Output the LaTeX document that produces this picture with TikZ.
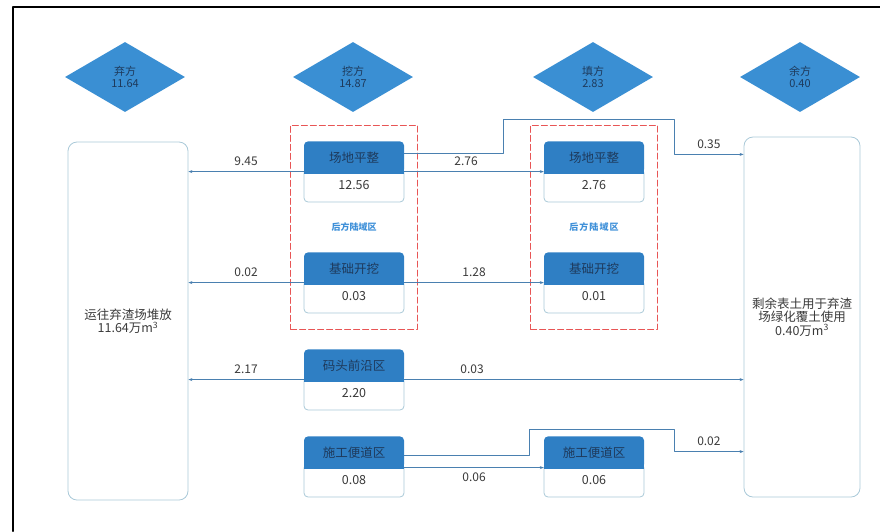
\documentclass[tikz,border=0pt]{standalone}
\usepackage{fontspec}
\usepackage{tikz}
\usetikzlibrary{arrows.meta, shapes, positioning, fit}
\newfontfamily\cjk{Noto Sans CJK SC}
\definecolor{diamondblue}{HTML}{3A8FD3}
\definecolor{headblue}{HTML}{2F7FC4}
\definecolor{inkblue}{HTML}{1E3A5C}
\definecolor{flowblue}{HTML}{4A80B0}
\definecolor{edgegrey}{HTML}{A9C9D8}
\definecolor{zonered}{HTML}{E85555}
\definecolor{tagblue}{HTML}{3D8FD8}
\definecolor{textgrey}{HTML}{3A3A3A}

\begin{document}
\begin{tikzpicture}[x=1pt, y=-1pt, line cap=round, line join=round,
    quantity/.style={diamond, fill=diamondblue, minimum width=120pt, minimum height=70pt, inner sep=0pt, align=center, text=inkblue, font=\cjk\fontsize{11}{12}\selectfont},
    sink/.style={draw=edgegrey, line width=0.8pt, rounded corners=9pt, align=center, text=textgrey, font=\cjk\fontsize{12.5}{13.5}\selectfont},
    head/.style={fill=headblue, rounded corners=4pt, minimum width=100pt, minimum height=32pt, inner sep=0pt, text=inkblue, font=\cjk\fontsize{12.5}{14}\selectfont},
    amount/.style={draw=edgegrey, line width=0.8pt, fill=white, rounded corners=4pt, minimum width=100pt, minimum height=33pt, inner sep=0pt, text=textgrey, font=\cjk\fontsize{12.5}{14}\selectfont},
    zone/.style={draw=zonered, line width=1pt, dash pattern=on 6pt off 3pt, inner xsep=13pt, inner ysep=16pt},
    tag/.style={text=tagblue, font=\cjk\bfseries\fontsize{9}{10}\selectfont},
    flow/.style={draw=flowblue, line width=0.8pt, -{Stealth[length=4pt, width=3pt]}},
    qty/.style={text=textgrey, font=\cjk\fontsize{12}{13}\selectfont}]
  \useasboundingbox (0,0) rectangle (880,531);

  % 外框
  \draw[line width=2pt] (13,531) -- (13,7) -- (880,7);

  % 土方总量
  \node[quantity] (qQi) at (125,77) {弃方\\11.64};
  \node[quantity] (qWa) at (353,77) {挖方\\14.87};
  \node[quantity] (qTian) at (593,77) {填方\\2.83};
  \node[quantity] (qYu) at (800,77) {余方\\0.40};

  % 去向
  \node[sink, minimum width=120pt, minimum height=358pt] (dump) at (128,321) {运往弃渣场堆放\\11.64万m\textsuperscript{3}};
  \node[sink, minimum width=116pt, minimum height=360pt] (cover) at (802,317) {剩余表土用于弃渣\\场绿化覆土使用\\0.40万m\textsuperscript{3}};

  % 挖方分区
  \node[amount] (pzAv) at (354,185.5) {12.56};
  \node[head, above=-5pt of pzAv] (pzA) {场地平整};
  \node[amount] (jcAv) at (354,296.5) {0.03};
  \node[head, above=-5pt of jcAv] (jcA) {基础开挖};
  \node[amount] (mtAv) at (354,393.5) {2.20};
  \node[head, above=-5pt of mtAv] (mtA) {码头前沿区};
  \node[amount] (sdAv) at (354,480.5) {0.08};
  \node[head, above=-5pt of sdAv] (sdA) {施工便道区};

  % 填方分区
  \node[amount] (pzBv) at (594,185.5) {2.76};
  \node[head, above=-5pt of pzBv] (pzB) {场地平整};
  \node[amount] (jcBv) at (594,296.5) {0.01};
  \node[head, above=-5pt of jcBv] (jcB) {基础开挖};
  \node[amount] (sdBv) at (594,480.5) {0.06};
  \node[head, above=-5pt of sdBv] (sdB) {施工便道区};

  \foreach \n in {pzA, jcA, mtA, sdA, pzB, jcB, sdB}
    \fill[headblue] ([yshift=5pt]\n.south west) rectangle (\n.south east);

  % 后方陆域区
  \node[zone, fit=(pzA)(jcAv)] (zoneA) {};
  \node[zone, fit=(pzB)(jcBv)] (zoneB) {};
  \node[tag] (tagA) at (zoneA.center) {后方陆域区};
  \node[tag] (tagB) at (zoneB.center) {\addfontfeature{LetterSpace=12}后方陆域区};

  % 流向
  \draw[flow] ([yshift=2pt]pzA.south west) coordinate (s1) -- (s1 -| dump.east) node[qty, midway, above=2pt] {9.45};
  \draw[flow] ([yshift=2pt]pzA.south east) coordinate (s2) -- (s2 -| pzB.west) node[qty, midway, above=2pt, xshift=-8pt] {2.76};
  \draw[flow] ([yshift=4pt]pzA.east) -- ++(99,0) -- ++(0,-34) -- ++(171,0) -- ++(0,35) coordinate (s3) -- (s3 -| cover.west) node[qty, midway, above=2pt] {0.35};
  \draw[flow] ([yshift=2pt]jcA.south west) coordinate (s4) -- (s4 -| dump.east) node[qty, midway, above=2pt] {0.02};
  \draw[flow] ([yshift=2pt]jcA.south east) coordinate (s5) -- (s5 -| jcB.west) node[qty, midway, above=2pt] {1.28};
  \draw[flow] ([yshift=2pt]mtA.south west) coordinate (s6) -- (s6 -| dump.east) node[qty, midway, above=2pt] {2.17};
  \draw[flow] ([yshift=2pt]mtA.south east) coordinate (s7) -- (s7 -| cover.west) node[qty, pos=0.2, above=2pt] {0.03};
  \draw[flow] ([yshift=13pt]sdA.south east) -- ++(125,0) -- ++(0,-26) -- ++(145,0) -- ++(0,22) coordinate (s8) -- (s8 -| cover.west) node[qty, midway, above=2pt] {0.02};
  \draw[flow] ([yshift=1pt]sdA.south east) coordinate (s9) -- (s9 -| sdB.west) node[qty, midway, below=1pt] {0.06};
\end{tikzpicture}
\end{document}
